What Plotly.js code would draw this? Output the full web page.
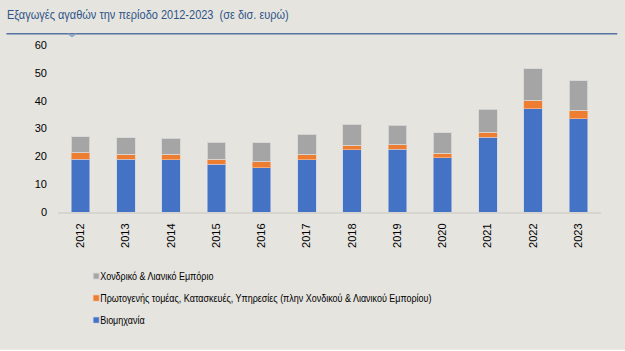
<!DOCTYPE html>
<html>
<head>
<meta charset="utf-8">
<script src="https://cdn.plot.ly/plotly-3.0.1.min.js"></script>
<style>
  html, body { margin: 0; padding: 0; background: #ffffff; }
  #chart { width: 625px; height: 351px; }
</style>
</head>
<body>
<div id="chart"></div>
<script>
const years = ['2012','2013','2014','2015','2016','2017','2018','2019','2020','2021','2022','2023'];
// values in billion euro
const industry = [19.0, 18.9, 18.7, 17.2, 15.9, 18.7, 22.4, 22.6, 19.5, 26.9, 37.1, 33.5];
const primaryServices = [2.2, 1.9, 2.1, 1.8, 2.1, 1.8, 1.6, 1.6, 1.6, 1.8, 3.0, 3.1];
const trade = [5.9, 5.9, 5.7, 6.1, 6.9, 7.5, 7.6, 6.9, 7.3, 8.2, 11.4, 10.6];

const seriesNames = {
  industry: 'Βιομηχανία',
  primary: 'Πρωτογενής τομέας, Κατασκευές, Υπηρεσίες (πλην Χονδικού & Λιανικού Εμπορίου)',
  trade: 'Χονδρικό & Λιανικό Εμπόριο'
};
const titleText = 'Εξαγωγές αγαθών την περίοδο 2012-2023  (σε δισ. ευρώ)';
const yTicks = [0, 10, 20, 30, 40, 50, 60];

const font = 'Liberation Sans, Arial, sans-serif';

const traces = [
  { type: 'bar', x: years, y: industry, name: seriesNames.industry, legendgroup: 'a', legendrank: 3,
    marker: { color: '#4472c4', line: { color: 'rgba(200,210,235,0.6)', width: 1 } } },
  { type: 'bar', x: years, y: primaryServices, name: seriesNames.primary, legendgroup: 'b', legendrank: 2,
    marker: { color: '#ed7d31', line: { color: 'rgba(245,200,170,0.6)', width: 1 } } },
  { type: 'bar', x: years, y: trade, name: seriesNames.trade, legendgroup: 'c', legendrank: 1,
    marker: { color: '#a5a5a5', line: { color: 'rgba(215,215,215,0.9)', width: 1 } } }
];

const layout = {
  width: 625, height: 351,
  paper_bgcolor: '#e5e4df',
  plot_bgcolor: '#e5e4df',
  barmode: 'stack',
  bargap: 0.59,
  margin: { l: 58, r: 24, t: 45, b: 139, pad: 0 },
  font: { family: font, size: 11, color: '#000000' },
  title: { text: titleText, x: 0.011, xanchor: 'left', xref: 'container',
           y: 0.958, yanchor: 'middle',
           font: { family: font, size: 13, color: '#2f5488' } },
  xaxis: {
    type: 'category', tickangle: -90, showgrid: false, ticks: '',
    showline: true, linecolor: '#d6d5d0', linewidth: 2,
    tickfont: { family: font, size: 11, color: '#000' },
    ticklabelstandoff: 5, range: [-0.5, 11.5], fixedrange: true
  },
  yaxis: {
    range: [0, 60], tickvals: yTicks, showgrid: false, zeroline: false,
    ticks: '', showline: false, ticklabelstandoff: 10,
    tickfont: { family: font, size: 11, color: '#000' }
  },
  showlegend: true,
  legend: {
    traceorder: 'grouped', orientation: 'v',
    x: 0.004, xanchor: 'left', y: -0.297, yanchor: 'top',
    bgcolor: 'rgba(0,0,0,0)', font: { family: font, size: 11, color: '#000' },
    itemwidth: 30, tracegroupgap: 3
  },
  shapes: [
    { type: 'line', xref: 'paper', yref: 'paper', x0: -0.095, x1: 1.03, y0: 1.068, y1: 1.068,
      line: { color: '#5673a0', width: 1.5 } },
    { type: 'path', xref: 'paper', yref: 'paper',
      path: 'M0.0185,1.068 L0.0258,1.052 L0.0331,1.068',
      line: { color: '#8aa0c0', width: 1.5 } },
    { type: 'rect', xref: 'paper', yref: 'paper', x0: -0.12, x1: 1.1, y0: -0.825, y1: -0.84,
      fillcolor: '#ffffff', line: { width: 0 } },
    { type: 'line', xref: 'paper', yref: 'paper', x0: -0.12, x1: 1.1, y0: -0.845, y1: -0.845,
      line: { color: '#7f93b5', width: 2 } }
  ]
};

function condense(el, factor) {
  const w = el.getComputedTextLength();
  if (w > 0) {
    el.setAttribute('textLength', (w * factor).toFixed(1));
    el.setAttribute('lengthAdjust', 'spacingAndGlyphs');
  }
}

Plotly.newPlot('chart', traces, layout, { displayModeBar: false, staticPlot: true }).then(function () {
  // smaller, square legend keys placed right before the legend text
  document.querySelectorAll('.legend .legendpoints path').forEach(function (p) {
    p.setAttribute('d', 'M19,3H13V-3H19Z');
  });
  // the reference uses a narrow face: condense legend and title text
  document.querySelectorAll('.legend text.legendtext').forEach(function (t) { condense(t, 0.815); });
  document.querySelectorAll('.gtitle').forEach(function (t) { condense(t, 0.845); });
});
</script>
</body>
</html>
